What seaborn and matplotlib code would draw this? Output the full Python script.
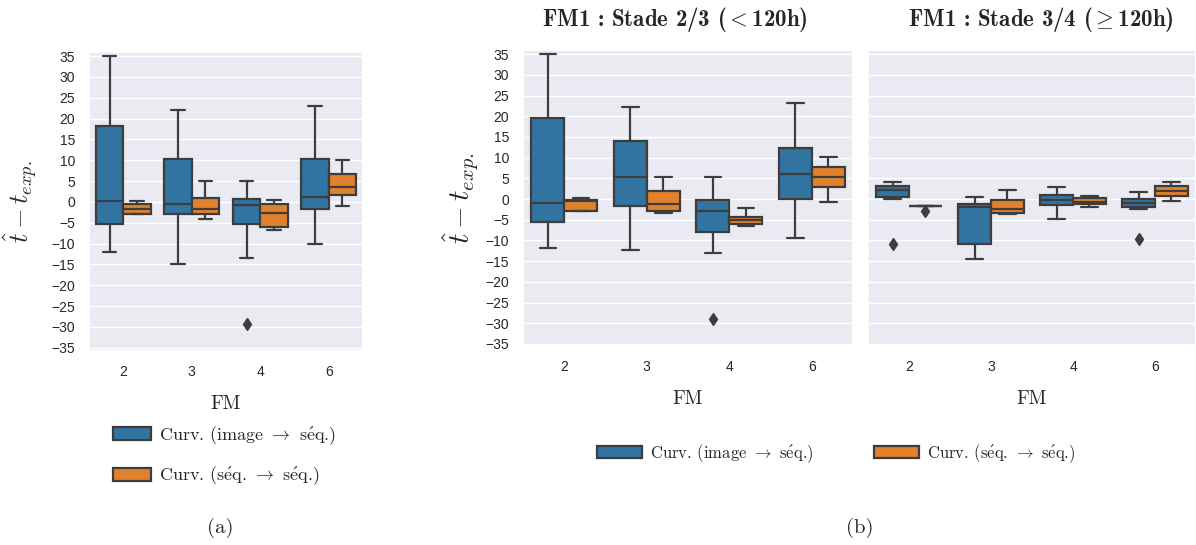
import pandas as pd
import matplotlib
matplotlib.use("Agg")
import matplotlib.pyplot as plt
import seaborn as sns

# --- donnees : [min moustache, Q1, mediane, Q3, max moustache]
fm_labels = ["2", "3", "4", "6"]
methodes = ["Curv. (image → séq.)", "Curv. (séq. → séq.)"]

# (a) tous stades
a_image = [[-12, -5.2, 0.3, 18.2, 35], [-14.8, -3, -0.6, 10.4, 22],
           [-13.4, -5.2, -0.8, 0.6, 5], [-10.2, -1.8, 1.2, 10.3, 23]]
a_image_out = [[], [], [-29.3], []]
a_seq = [[-3, -3, -1.8, -0.4, 0.3], [-4, -3, -1.8, 1, 5],
         [-6.8, -6, -2.6, -0.4, 0.5], [-1, 1.6, 3.6, 6.8, 10]]
a_seq_out = [[], [], [], []]

# (b) stade 2/3 (<120h)
b1_image = [[-11.8, -5.6, -1, 19.5, 35], [-12.3, -1.8, 5.4, 13.9, 22.2],
            [-13.1, -8, -2.8, -0.3, 5.3], [-9.5, 0, 6.1, 12.4, 23.2]]
b1_image_out = [[], [], [-29], []]
b1_seq = [[-2.8, -2.8, -0.5, -0.2, 0.3], [-3.3, -2.8, -1.2, 2, 5.3],
          [-6.5, -6.1, -5, -4.3, -2.2], [-0.8, 2.9, 5.3, 7.7, 10.1]]
b1_seq_out = [[], [], [], []]

# (b) stade 3/4 (>=120h)
b2_image = [[0, 0.4, 2.2, 3.2, 4.2], [-14.5, -10.8, -2, -1.2, 0.5],
            [-4.9, -1.4, -0.3, 1, 2.9], [-2.5, -2, -0.9, -0.1, 1.8]]
b2_image_out = [[-10.8], [], [], [-9.7]]
b2_seq = [[-1.7, -1.7, -1.7, -1.7, -1.7], [-3.7, -3.3, -2.4, -0.3, 2.3],
          [-2, -1.2, -0.7, 0.2, 0.8], [-0.4, 0.7, 2, 3.2, 4.2]]
b2_seq_out = [[-2.8], [], [], []]


def echantillons(panel, methode, resumes, aberrants):
    # 13 valeurs par boite -> Q1, mediane, Q3 tombent exactement sur les indices 3, 6, 9
    lignes = []
    for fm, r, outs in zip(fm_labels, resumes, aberrants):
        lo, q1, med, q3, hi = r
        vals = [lo, lo, q1, q1, q1, med, med, med, q3, q3, q3, hi, hi]
        bas = [o for o in outs if o < lo]
        haut = [o for o in outs if o > hi]
        if bas:
            vals[0] = bas[0]
        if haut:
            vals[-1] = haut[0]
        for v in vals:
            lignes.append({"panel": panel, "FM": fm, "methode": methode, "ecart": v})
    return lignes


rows = []
rows += echantillons("a", methodes[0], a_image, a_image_out)
rows += echantillons("a", methodes[1], a_seq, a_seq_out)
rows += echantillons("b1", methodes[0], b1_image, b1_image_out)
rows += echantillons("b1", methodes[1], b1_seq, b1_seq_out)
rows += echantillons("b2", methodes[0], b2_image, b2_image_out)
rows += echantillons("b2", methodes[1], b2_seq, b2_seq_out)
df = pd.DataFrame(rows)

sns.set_theme(style="darkgrid")
plt.rcParams["font.family"] = ["Liberation Sans", "DejaVu Sans"]
plt.rcParams["mathtext.fontset"] = "cm"

W, H = 1196, 545
fig = plt.figure(figsize=(W / 100, H / 100), dpi=100)

ax_a = fig.add_axes([89 / W, 1 - 351 / H, 274 / W, 299 / H])
ax_b1 = fig.add_axes([523 / W, 1 - 346 / H, 330 / W, 296 / H])
ax_b2 = fig.add_axes([868 / W, 1 - 346 / H, 328 / W, 296 / H], sharey=ax_b1)

couleurs = ["#1f77b4", "#ff7f0e"]
props = dict(marker="d", markerfacecolor="#3d3d3d", markeredgecolor="#3d3d3d")
serif = ["cmr10", "DejaVu Serif"]
serif_gras = ["cmb10", "DejaVu Serif"]

for ax, p in [(ax_a, "a"), (ax_b1, "b1"), (ax_b2, "b2")]:
    sns.boxplot(data=df[df["panel"] == p], x="FM", y="ecart", hue="methode",
                order=fm_labels, hue_order=methodes, palette=couleurs,
                linewidth=1.6, linecolor="#3d3d3d", fliersize=6,
                flierprops=props, ax=ax)
    ax.xaxis.grid(False)
    ax.set_yticks(range(-35, 40, 5))
    ax.tick_params(axis="both", labelsize=10, pad=4)
    ax.set_xlabel("FM", fontsize=14, labelpad=12, family=serif)

ax_a.set_ylim(-35.8, 36)
ax_b1.set_ylim(-35.5, 36)

handles = ax_a.get_legend().legend_handles
for ax in [ax_a, ax_b1, ax_b2]:
    ax.get_legend().remove()

ylab = r"$\hat{t} - t_{exp.}$"
ax_a.set_ylabel(ylab, fontsize=19, labelpad=8)
ax_b1.set_ylabel(ylab, fontsize=21, labelpad=4)
ax_b2.set_ylabel("")
ax_b2.tick_params(axis="y", labelleft=False)

e_aigu = r"$\mathrm{\acute{e}}$"
fleche = r"$\rightarrow$"
labels_leg = ["Curv. (image " + fleche + " s" + e_aigu + "q.)",
              "Curv. (s" + e_aigu + "q. " + fleche + " s" + e_aigu + "q.)"]

fig.legend(handles, labels_leg, loc="upper left", bbox_to_anchor=(113 / W, 1 - 424 / H),
           frameon=False, prop={"family": serif, "size": 13}, handlelength=2.1,
           handleheight=0.75, labelspacing=1.0, handletextpad=0.45, borderpad=0,
           borderaxespad=0)
fig.legend(handles, labels_leg, loc="upper left", bbox_to_anchor=(597 / W, 1 - 442 / H),
           ncol=2, frameon=False, prop={"family": serif, "size": 12}, handlelength=2.7,
           handleheight=0.7, columnspacing=3.6, handletextpad=0.5, borderpad=0,
           borderaxespad=0)

fig.text(675 / W, 1 - 20 / H, "FM1 : Stade 2/3 ($<$120h)",
         ha="center", va="center", fontsize=16.5, family=serif_gras)
fig.text(1041 / W, 1 - 20 / H, r"FM1 : Stade 3/4 ($\geq$120h)",
         ha="center", va="center", fontsize=16.5, family=serif_gras)

fig.text(220 / W, 1 - 528 / H, "(a)", ha="center", va="center", fontsize=15, family=serif)
fig.text(860 / W, 1 - 528 / H, "(b)", ha="center", va="center", fontsize=15, family=serif)

fig.savefig("out.png", dpi=100)
